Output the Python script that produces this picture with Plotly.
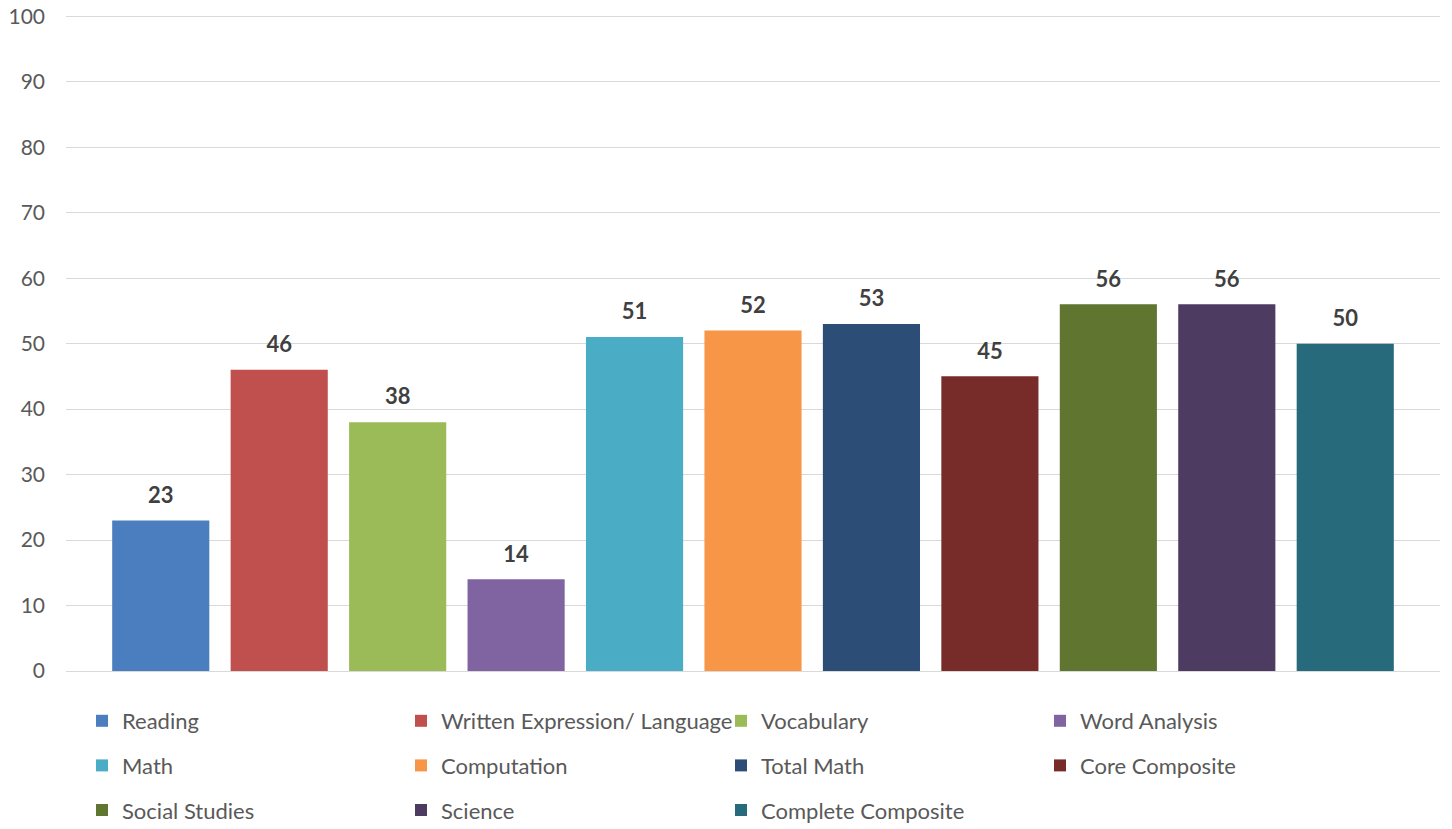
import plotly.graph_objects as go

categories = ["Reading", "Written Expression/ Language", "Vocabulary", "Word Analysis",
              "Math", "Computation", "Total Math", "Core Composite",
              "Social Studies", "Science", "Complete Composite"]
values = [23, 46, 38, 14, 51, 52, 53, 45, 56, 56, 50]
colors = ["#4a7ebf", "#c0504d", "#9bbb59", "#8064a2", "#4bacc6", "#f79646",
          "#2c4d75", "#772c2a", "#5f7530", "#4d3b62", "#276a7c"]
legend_cols = ["legend", "legend2", "legend3", "legend4",
               "legend", "legend2", "legend3", "legend4",
               "legend", "legend2", "legend3"]

FONT = "Lato, 'Open Sans', sans-serif"
W, H = 1452, 829

fig = go.Figure()
for cat, val, col, lg in zip(categories, values, colors, legend_cols):
    fig.add_trace(go.Bar(x=[cat], y=[val], name=cat, marker=dict(color=col, line=dict(width=0)),
                         width=0.82, legend=lg, legendgroup=cat))

fig.add_trace(go.Scatter(x=categories, y=values, mode="markers+text",
                         text=[f"<b>{v}</b>" for v in values],
                         textposition="top center", showlegend=False, cliponaxis=False,
                         marker=dict(size=18, opacity=0),
                         textfont=dict(family=FONT, size=22, color="#404040"), hoverinfo="skip"))

def leg(xpx):
    return dict(orientation="v", xref="container", yref="container", x=xpx / W,
                xanchor="left", yanchor="top", y=1 - 700 / H,
                font=dict(family=FONT, size=22, color="#595959"), bgcolor="rgba(0,0,0,0)",
                traceorder="grouped", tracegroupgap=13)

fig.update_layout(
    width=W, height=H,
    margin=dict(l=66, r=12, t=13, b=158, autoexpand=False),
    paper_bgcolor="white", plot_bgcolor="white",
    barmode="overlay",
    showlegend=True,
    legend=leg(82), legend2=leg(401), legend3=leg(721), legend4=leg(1040),
    xaxis=dict(type="category", range=[-0.8, 10.8], showticklabels=False, showgrid=False,
               showline=False, zeroline=False, ticks=""),
    yaxis=dict(range=[0, 100.5], dtick=10, showgrid=True, gridcolor="#d9d9d9", gridwidth=1.3,
               zeroline=True, zerolinecolor="#d9d9d9", zerolinewidth=1.3, showline=False,
               ticks="", ticklabelstandoff=20, ticklabeloverflow="allow",
               tickfont=dict(family=FONT, size=21, color="#595959")),
)
fig.write_html("out.html", post_script="document.body.style.margin='0px';",
               config={"displayModeBar": False})
